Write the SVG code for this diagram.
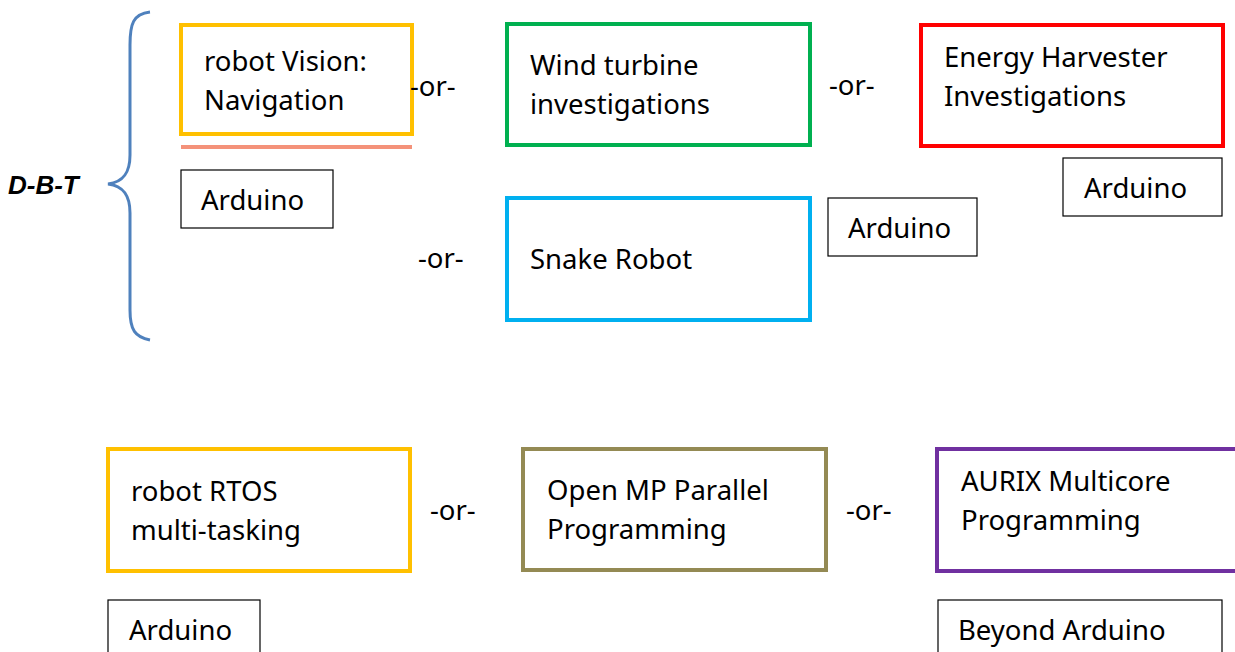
<svg xmlns="http://www.w3.org/2000/svg" width="1235" height="652" viewBox="0 0 1235 652">
<style>
.t{font-family:"Noto Sans","Open Sans",sans-serif;font-size:27.5px;fill:#000}
.big{fill:#fff;stroke-width:4}
.small{fill:#fff;stroke:#000;stroke-width:1.2}
</style>
<rect width="1235" height="652" fill="#fff"/>
<g id="brace">
<path d="M150,12 C133,14 130,24 130,45 L130,155 C130,172 124,182 108,184 C124,186 130,196 130,213 L130,310 C130,330 135,337 150,340" fill="none" stroke="#4f81bd" stroke-width="3"/>
<text x="8" y="194" style="font-family:'Liberation Sans',Arial,sans-serif;font-size:26px;font-weight:bold;font-style:italic">D-B-T</text>
</g>
<g id="vision">
<rect class="big" x="181" y="25" width="231" height="109" stroke="#ffc000"/>
<text class="t" x="204" y="71">robot Vision:</text>
<text class="t" x="204" y="110">Navigation</text>
</g>
<g id="underline"><line x1="181" y1="147" x2="412" y2="147" stroke="#f4927a" stroke-width="4"/></g>
<g id="ard1"><rect class="small" x="181" y="170" width="152" height="58"/><text class="t" x="201" y="210">Arduino</text></g>
<g id="wind">
<rect class="big" x="507" y="24" width="303" height="121" stroke="#00b050"/>
<text class="t" x="530" y="75">Wind turbine</text>
<text class="t" x="530" y="114">investigations</text>
</g>
<g id="energy">
<rect class="big" x="921" y="25" width="302" height="121" stroke="#ff0000"/>
<text class="t" x="944" y="67">Energy Harvester</text>
<text class="t" x="944" y="106">Investigations</text>
</g>
<g id="ard2"><rect class="small" x="1063" y="158" width="159" height="58"/><text class="t" x="1084" y="198">Arduino</text></g>
<g id="snake">
<rect class="big" x="507" y="198" width="303" height="122" stroke="#00b0f0"/>
<text class="t" x="530" y="269">Snake Robot</text>
</g>
<g id="ard3"><rect class="small" x="828" y="198" width="149" height="58"/><text class="t" x="848" y="238">Arduino</text></g>
<g id="rtos">
<rect class="big" x="108" y="449" width="302" height="122" stroke="#ffc000"/>
<text class="t" x="131" y="501">robot RTOS</text>
<text class="t" x="131" y="540">multi-tasking</text>
</g>
<g id="openmp">
<rect class="big" x="523" y="449" width="303" height="121" stroke="#948a54"/>
<text class="t" x="547" y="500">Open MP Parallel</text>
<text class="t" x="547" y="539">Programming</text>
</g>
<g id="aurix">
<rect class="big" x="937" y="449" width="310" height="122" stroke="#7030a0"/>
<text class="t" x="961" y="491">AURIX Multicore</text>
<text class="t" x="961" y="530">Programming</text>
</g>
<g id="ard4"><rect class="small" x="108" y="600" width="152" height="60"/><text class="t" x="129" y="640">Arduino</text></g>
<g id="beyond"><rect class="small" x="938" y="600" width="284" height="60"/><text class="t" x="958" y="640">Beyond Arduino</text></g>
<g id="connectors">
<text class="t" x="410" y="96">-or-</text>
<text class="t" x="829" y="95">-or-</text>
<text class="t" x="418" y="268">-or-</text>
<text class="t" x="430" y="520">-or-</text>
<text class="t" x="846" y="520">-or-</text>
</g>
</svg>
